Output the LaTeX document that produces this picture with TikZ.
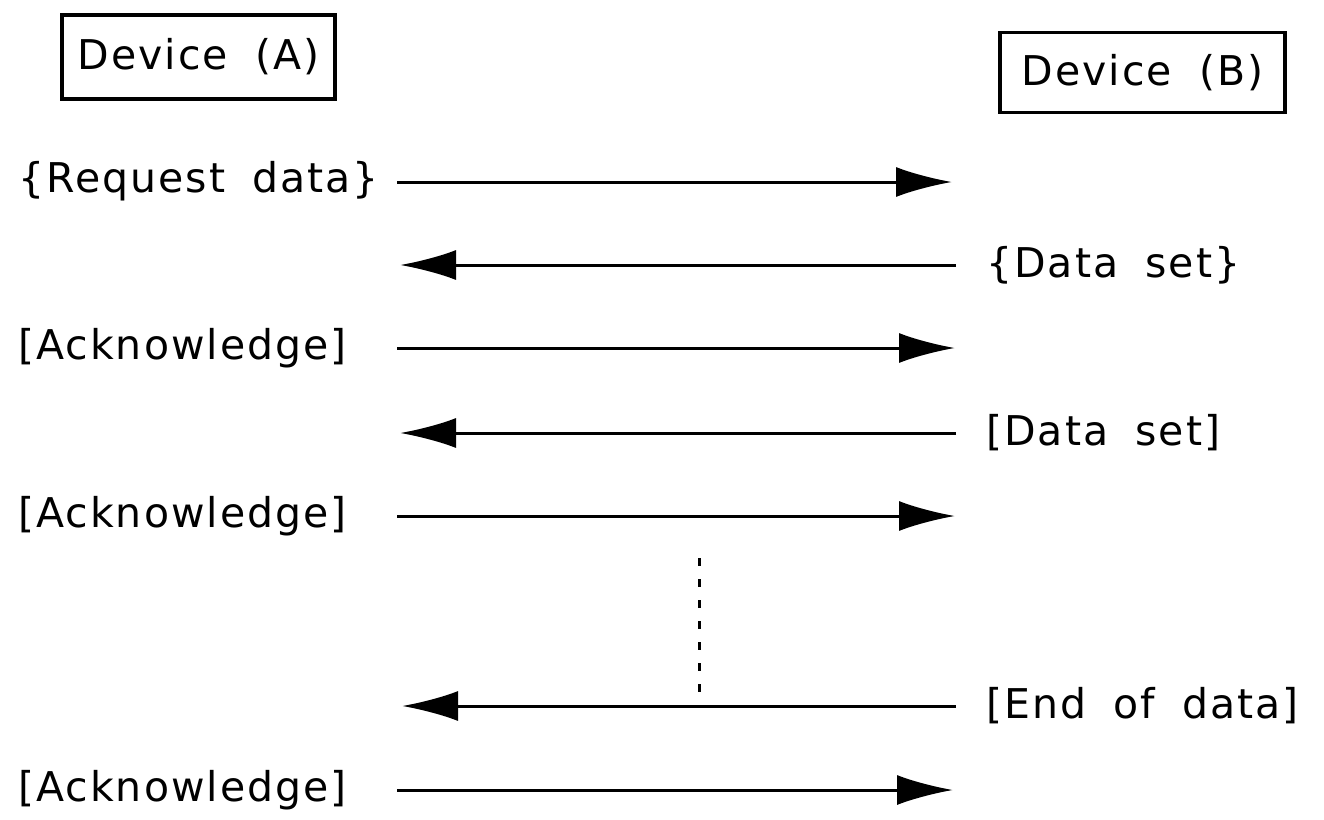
\documentclass[tikz,border=0pt]{standalone}
\usepackage{fontspec}
\setmainfont[LetterSpace=5,WordSpace=1.8]{DejaVu Sans}
\usetikzlibrary{arrows.meta}
\begin{document}
\begin{tikzpicture}[x=1pt,y=-1pt,
  lbl/.style={anchor=west,inner sep=0pt,font=\fontsize{41}{48}\selectfont},
  devbox/.style={draw,line width=3.5pt,minimum width=#1,minimum height=84pt,inner sep=0pt,font=\fontsize{41}{48}\selectfont},
  msg/.style={line width=3pt,-{Latex[length=56pt,width=30pt]}},
  dots/.style={line width=3pt,dash pattern=on 8pt off 13pt}]
\useasboundingbox (0,0) rectangle (1324,819);
\node[devbox=273pt] (devA) at (198.5,57) {Device (A)};
\node[devbox=285pt,minimum height=80pt] (devB) at (1142.5,72.5) {Device (B)};
% left labels
\node[lbl] (l1) at (18,181) {\{Request data\}};
\node[lbl] (l3) at (18,348) {[Acknowledge]};
\node[lbl] (l5) at (18,516) {[Acknowledge]};
\node[lbl] (l7) at (18,790) {[Acknowledge]};
% right labels
\node[lbl] (r2) at (986,265) {\{Data set\}};
\node[lbl] (r4) at (986,433) {[Data set]};
\node[lbl] (r6) at (986,706) {[End of data]};
% arrow endpoints
\coordinate (a1s) at (397,182); \coordinate (a1e) at (952,182);
\coordinate (a2s) at (956,265); \coordinate (a2e) at (400,265);
\coordinate (a3s) at (397,348); \coordinate (a3e) at (955,348);
\coordinate (a4s) at (956,433); \coordinate (a4e) at (400,433);
\coordinate (a5s) at (397,516); \coordinate (a5e) at (955,516);
\coordinate (a6s) at (956,706); \coordinate (a6e) at (402,706);
\coordinate (a7s) at (397,790); \coordinate (a7e) at (953,790);
\draw[msg] (a1s) -- (a1e);
\draw[msg] (a2s) -- (a2e);
\draw[msg] (a3s) -- (a3e);
\draw[msg] (a4s) -- (a4e);
\draw[msg] (a5s) -- (a5e);
\draw[msg] (a6s) -- (a6e);
\draw[msg] (a7s) -- (a7e);
% continuation dots
\coordinate (d1) at (699,558); \coordinate (d2) at (699,692);
\draw[dots] (d1) -- (d2);
\end{tikzpicture}
\end{document}
